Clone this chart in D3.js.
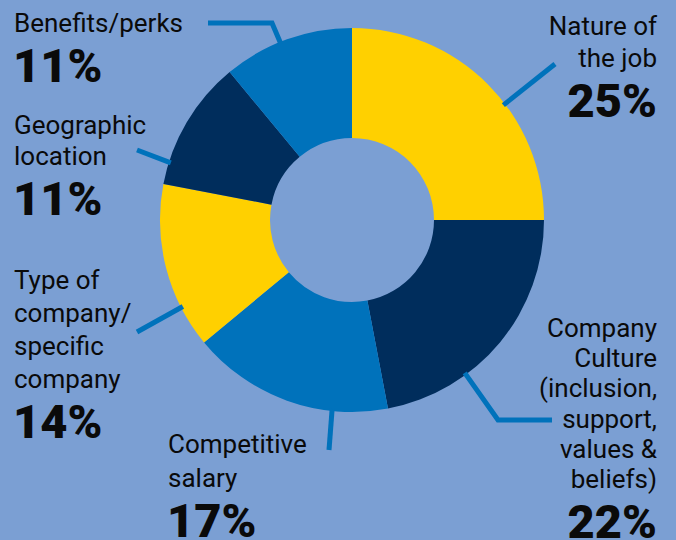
<!DOCTYPE html>
<html>
<head>
<meta charset="utf-8">
<script src="https://cdn.jsdelivr.net/npm/d3@7"></script>
<style>
  body { margin: 0; background: #7b9fd3; }
  svg { display: block; }
  text { font-family: Roboto, "Noto Sans", sans-serif; fill: #0a0a0a; }
</style>
</head>
<body>
<svg width="676" height="540"></svg>
<script>
// slice data, clockwise from 12 o'clock
const categories = [
  "Nature of the job",
  "Company Culture",
  "Competitive salary",
  "Type of company/specific company",
  "Geographic location",
  "Benefits/perks",
];
const values = [25, 22, 17, 14, 11, 11];
const colors = ["#ffd000", "#002d5c", "#0072bb", "#ffd000", "#002d5c", "#0072bb"];

// how each label is broken into lines
const labelLines = [
  ["Nature of", "the job"],
  ["Company", "Culture", "(inclusion,", "support,", "values &", "beliefs)"],
  ["Competitive", "salary"],
  ["Type of", "company/", "specific", "company"],
  ["Geographic", "location"],
  ["Benefits/perks"],
];

// label layout: anchor x, first baseline, line step, alignment
const labelLayout = [
  { x: 657, y: 35, step: 32, anchor: "end" },
  { x: 657, y: 337, step: 30.2, anchor: "end" },
  { x: 168, y: 453, step: 34, anchor: "start" },
  { x: 14, y: 289, step: 33, anchor: "start" },
  { x: 14, y: 134, step: 31, anchor: "start" },
  { x: 14, y: 32, step: 32, anchor: "start" },
];

// leader lines: where they leave the ring (degrees clockwise from top) and where they go
const leaders = [
  { angle: 52.8, pts: [[555, 64]] },
  { angle: 143.6, pts: [[498, 420], [552, 420]] },
  { angle: 186, pts: [[329, 450]] },
  { angle: 242.9, pts: [[137, 332]] },
  { angle: 287.5, pts: [[137, 150]] },
  { angle: 338, pts: [[272, 23], [208, 23]] },
];

const svg = d3.select("svg");
const cx = 352, cy = 220, outerR = 192, innerR = 82;

const pie = d3.pie().sort(null).value(d => d);
const arc = d3.arc().innerRadius(innerR).outerRadius(outerR);

const g = svg.append("g").attr("transform", `translate(${cx},${cy})`);

g.selectAll("path")
  .data(pie(values))
  .enter()
  .append("path")
  .attr("d", arc)
  .attr("fill", (d, i) => colors[i]);

// leader lines
const line = d3.line();
svg.selectAll("path.leader")
  .data(leaders)
  .enter()
  .append("path")
  .attr("class", "leader")
  .attr("d", d => {
    const a = d.angle * Math.PI / 180;
    const r = outerR - 2;
    const start = [cx + r * Math.sin(a), cy - r * Math.cos(a)];
    return line([start].concat(d.pts));
  })
  .attr("fill", "none")
  .attr("stroke", "#0072bb")
  .attr("stroke-width", 5);

// labels
categories.forEach((c, i) => {
  const L = labelLayout[i];
  const t = svg.append("g");
  labelLines[i].forEach((s, j) => {
    t.append("text")
      .attr("x", L.x)
      .attr("y", L.y + j * L.step)
      .attr("text-anchor", L.anchor)
      .attr("font-size", "26px")
      .text(s);
  });
  t.append("text")
    .attr("x", L.x - (L.anchor === "end" ? 0 : 1))
    .attr("y", L.y + (labelLines[i].length - 1) * L.step + 50)
    .attr("text-anchor", L.anchor)
    .attr("font-size", "47px")
    .attr("font-weight", 900)
    .text(values[i] + "%");
});
</script>
</body>
</html>
